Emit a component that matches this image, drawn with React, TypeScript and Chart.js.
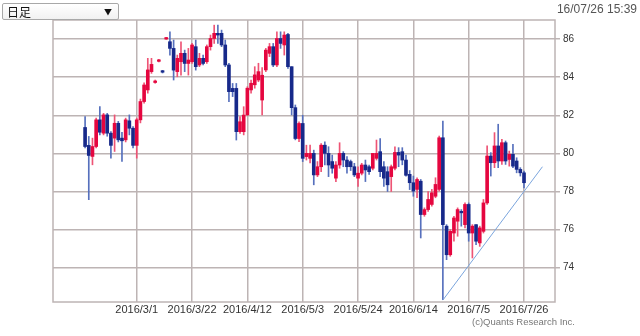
import React, { useEffect, useRef } from 'react';
import { Chart, registerables } from 'chart.js';

Chart.register(...registerables);

// Daily candles (weekday index; 0 = 2016/3/1)
const startIndex = -14;
const opens = [
  81.36, 80.42, 79.84, 80.36, 81.76, 81.06, 82.02, 81.06, 80.8, 81.58, 80.8, 80.71, 81.71, 81.32,
  80.42, 81.76, 82.72, 83.33, 84.29, 83.72, 84.83, 84.33, 86.0, 85.86, 85.51, 84.29, 84.81, 85.25, 84.72,
  84.81, 85.6, 84.64, 84.99, 84.81, 85.6, 86.03, 86.3, 86.3, 85.69, 84.64, 83.41, 83.41, 81.14, 81.14,
  82.02, 83.33, 83.6, 83.85, 82.8, 84.38, 85.25, 85.6, 84.64, 86.03, 85.69, 86.24, 84.55, 82.4, 80.78,
  81.57, 79.83, 79.74, 80.0, 78.87, 79.3, 80.43, 80.0, 79.57, 78.7, 79.39, 80.0, 79.65, 79.57, 79.3,
  78.7, 78.96, 79.39, 79.3, 79.22, 79.74, 80.09, 79.3, 79.04, 78.78, 79.22, 80.05, 80.09, 79.65, 78.9,
  78.46, 78.11, 78.54, 76.79, 77.05, 77.32, 77.75, 78.11, 80.82, 76.18, 74.68, 75.82, 76.44, 76.96, 76.26,
  77.32, 75.82, 76.26, 75.3, 75.91, 77.4, 79.86, 79.51, 80.39, 79.6, 80.56, 79.68, 79.95, 79.6, 79.16,
  78.98,
];
const highs = [
  81.93, 80.89, 80.8, 81.85, 82.46, 82.1, 82.1, 81.15, 82.02, 81.68, 81.11, 81.85, 82.02, 81.4,
  81.85, 82.85, 83.7, 84.99, 84.99, 83.85, 84.93, 84.36, 86.09, 86.38, 85.95, 85.16, 85.86, 85.42, 85.51,
  85.77, 85.95, 85.25, 85.16, 85.69, 86.21, 86.73, 86.73, 86.47, 85.95, 84.72, 83.67, 83.67, 81.93, 82.45,
  83.5, 83.85, 84.55, 84.73, 84.5, 85.51, 85.77, 85.77, 86.38, 86.38, 86.38, 86.3, 84.55, 82.54, 81.65,
  82.0, 80.43, 80.43, 80.17, 79.57, 80.52, 80.6, 80.35, 79.91, 79.57, 80.56, 80.09, 79.83, 79.65, 79.48,
  79.3, 79.48, 79.65, 79.39, 79.91, 80.7, 80.78, 79.57, 79.3, 79.39, 80.35, 80.3, 80.3, 79.91, 79.1,
  78.81, 78.72, 78.63, 77.14, 78.0, 78.11, 78.72, 80.91, 81.7, 76.26, 76.0, 76.7, 77.14, 77.05, 77.4,
  77.4, 76.26, 76.26, 76.18, 77.58, 80.39, 80.04, 81.09, 81.53, 80.74, 80.65, 80.12, 80.47, 79.77, 79.25,
  79.07,
];
const lows = [
  80.28, 77.57, 79.4, 80.28, 80.97, 80.97, 80.9, 79.75, 80.1, 80.6, 79.58, 80.6, 80.97, 80.28,
  79.75, 81.6, 82.63, 83.16, 84.2, 83.68, 84.8, 84.22, 85.98, 85.16, 83.85, 84.02, 84.11, 84.29, 84.11,
  84.72, 84.37, 84.55, 84.64, 84.72, 85.42, 85.77, 85.77, 85.6, 84.55, 82.71, 82.98, 80.7, 81.05, 80.97,
  81.99, 83.16, 83.42, 83.76, 82.02, 84.29, 85.08, 84.55, 84.55, 85.51, 85.16, 84.46, 82.02, 80.71, 80.61,
  79.57, 79.65, 79.5, 78.35, 78.78, 79.04, 79.4, 78.78, 78.96, 78.52, 79.22, 79.3, 78.96, 79.1, 78.78,
  78.26, 78.87, 78.52, 78.9, 79.13, 79.65, 78.78, 78.26, 78.0, 78.0, 79.13, 79.3, 79.4, 78.8, 78.1,
  77.75, 77.67, 75.56, 76.7, 76.96, 77.23, 77.67, 78.02, 72.32, 74.42, 74.6, 75.39, 75.65, 76.18, 76.09,
  75.39, 74.51, 75.21, 75.12, 75.82, 77.32, 78.81, 79.25, 79.25, 79.42, 79.42, 79.33, 79.25, 78.98, 78.81,
  78.19,
];
const closes = [
  80.36, 79.89, 80.36, 81.76, 81.11, 82.02, 81.06, 80.42, 81.58, 80.71, 80.66, 81.76, 81.32, 80.42,
  81.76, 82.72, 83.59, 84.38, 84.67, 83.8, 84.9, 84.26, 86.06, 85.51, 84.37, 84.99, 85.25, 84.72, 84.9,
  85.69, 84.55, 84.99, 84.72, 85.6, 86.03, 86.3, 86.21, 85.69, 84.64, 83.24, 83.24, 81.14, 81.66, 82.01,
  83.42, 83.68, 84.12, 84.29, 84.1, 85.42, 85.6, 84.64, 86.03, 85.77, 86.21, 84.55, 82.4, 80.78, 81.57,
  79.74, 80.0, 80.0, 78.87, 79.3, 80.43, 80.0, 79.39, 79.22, 79.39, 80.0, 79.65, 79.3, 79.3, 78.87,
  78.96, 79.39, 79.13, 79.04, 80.0, 80.0, 79.04, 78.7, 78.35, 79.3, 80.05, 79.91, 79.65, 78.85, 78.46,
  78.02, 78.63, 76.79, 77.05, 77.58, 77.93, 78.37, 80.82, 76.26, 74.68, 75.91, 76.61, 77.05, 76.88, 77.32,
  75.82, 76.18, 75.39, 76.09, 77.4, 79.86, 79.51, 80.39, 79.6, 80.56, 79.6, 79.95, 79.33, 79.16, 78.98,
  78.46,
];

const tickPositions = [0, 15, 30, 45, 60, 75, 90, 105];
const tickLabels = ['2016/3/1', '2016/3/22', '2016/4/12', '2016/5/3', '2016/5/24', '2016/6/14', '2016/7/5', '2016/7/26'];
const yTicks = [74, 76, 78, 80, 82, 84, 86];
const trendX = [83, 110];
const trendY = [72.3, 79.3];

const UP = '#e5063f';
const DOWN = '#17298a';
const UP_WICK = '#ee5475';
const DOWN_WICK = '#5670bd';
const GRID = '#bdb4b4';

export default function App() {
  const ref = useRef<HTMLCanvasElement | null>(null);

  useEffect(() => {
    if (!ref.current) return;
    const isUp = opens.map((o, i) => closes[i] >= o);
    const wickData = opens.map((_, i) => ({ x: startIndex + i, y: [lows[i], highs[i]] }));
    const bodyData = opens.map((o, i) => ({
      x: startIndex + i,
      y: [Math.min(o, closes[i]), Math.max(o, closes[i])],
    }));
    const frame = {
      id: 'frame',
      beforeDatasetsDraw(chart: any) {
        const { ctx, chartArea: a } = chart;
        ctx.save();
        ctx.strokeStyle = GRID;
        ctx.lineWidth = 1.5;
        ctx.strokeRect(a.left, a.top, a.right - a.left, a.bottom - a.top);
        ctx.restore();
      },
    };
    const chart = new Chart(ref.current, {
      type: 'bar',
      data: {
        datasets: [
          {
            type: 'bar',
            data: wickData as any,
            backgroundColor: isUp.map((u) => (u ? UP_WICK : DOWN_WICK)),
            barThickness: 1,
            grouped: false,
            borderWidth: 0,
            order: 2,
          } as any,
          {
            type: 'bar',
            data: bodyData as any,
            backgroundColor: isUp.map((u) => (u ? UP : DOWN)),
            barThickness: 3,
            minBarLength: 1.5,
            grouped: false,
            borderWidth: 0,
            order: 1,
          } as any,
          {
            type: 'line',
            data: trendX.map((x, i) => ({ x, y: trendY[i] })) as any,
            borderColor: '#7ba5dd',
            borderWidth: 1,
            pointRadius: 0,
            order: 0,
          } as any,
        ],
      },
      options: {
        animation: false,
        responsive: false,
        layout: { padding: { left: 53, top: 20, right: 0, bottom: 0 } },
        plugins: { legend: { display: false }, tooltip: { enabled: false } },
        scales: {
          x: {
            type: 'linear',
            min: -22.7,
            max: 113.4,
            offset: false,
            afterBuildTicks: (s: any) => {
              s.ticks = tickPositions.map((v) => ({ value: v }));
            },
            afterFit: (s: any) => {
              s.height = 34;
            },
            grid: { color: GRID, lineWidth: 1.5, drawTicks: false, offset: false },
            border: { display: false },
            ticks: {
              autoSkip: false,
              maxRotation: 0,
              padding: 1,
              color: '#333',
              font: { family: 'Liberation Sans, Arial, sans-serif', size: 11 },
              callback: (v: any) => {
                const k = tickPositions.indexOf(Number(v));
                return k >= 0 ? tickLabels[k] : '';
              },
            },
          },
          y: {
            type: 'linear',
            position: 'right',
            min: 72.2,
            max: 87.0,
            afterBuildTicks: (s: any) => {
              s.ticks = yTicks.map((v) => ({ value: v }));
            },
            afterFit: (s: any) => {
              s.width = 85;
            },
            grid: { color: GRID, lineWidth: 1.5, drawTicks: true, tickLength: 5 },
            border: { display: false },
            ticks: {
              padding: 3,
              color: '#333',
              font: { family: 'Liberation Sans, Arial, sans-serif', size: 10 },
            },
          },
        },
      } as any,
      plugins: [frame],
    });
    return () => chart.destroy();
  }, []);

  return (
    <div style={{ position: 'fixed', left: 0, top: 0, width: 640, height: 336, background: '#fff', overflow: 'hidden' }}>
      <canvas ref={ref} width={640} height={336} style={{ position: 'absolute', left: 0, top: 0 }} />
      <div
        style={{
          position: 'absolute',
          left: 2,
          top: 3,
          width: 115,
          height: 15,
          border: '1px solid #a8a8a8',
          borderRadius: 2,
          background: 'linear-gradient(#ffffff, #f1f1f1)',
          fontFamily: '"Noto Sans CJK JP", sans-serif',
          fontSize: 12,
          lineHeight: '15px',
          color: '#111',
        }}
      >
        <span style={{ position: 'absolute', left: 4, top: 0 }}>日足</span>
        <span style={{ position: 'absolute', right: 6, top: 0, fontSize: 8, lineHeight: '15px' }}>▼</span>
      </div>
      <div
        style={{
          position: 'absolute',
          right: 3,
          top: 2,
          fontFamily: 'Liberation Sans, Arial, sans-serif',
          fontSize: 12,
          color: '#555',
        }}
      >
        16/07/26 15:39
      </div>
      <div
        style={{
          position: 'absolute',
          left: 472,
          top: 316,
          fontFamily: 'Liberation Sans, Arial, sans-serif',
          fontSize: 9.5,
          color: '#777',
        }}
      >
        (c)Quants Research Inc.
      </div>
    </div>
  );
}
